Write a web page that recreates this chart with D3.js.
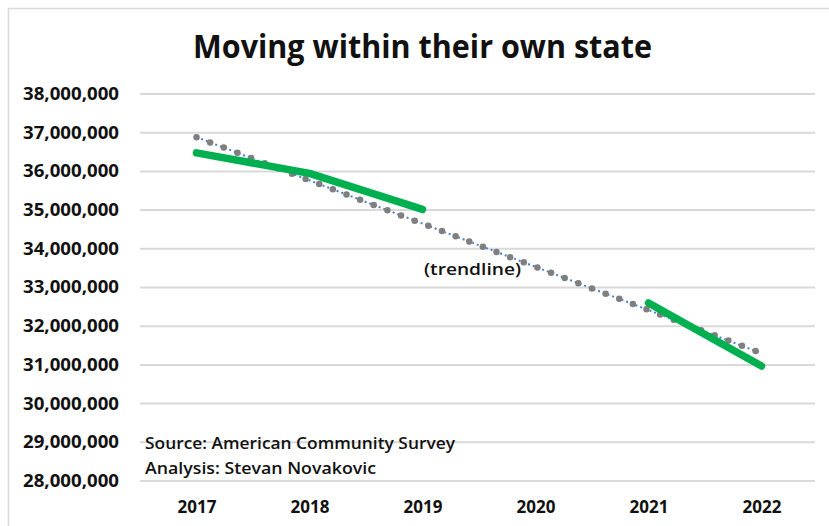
<!DOCTYPE html>
<html>
<head>
<meta charset="utf-8">
<script src="https://cdn.jsdelivr.net/npm/d3@7"></script>
<style>
  body { margin: 0; background: #fff; }
  text { font-family: "Open Sans", "DejaVu Sans", sans-serif; fill: #111; }
</style>
</head>
<body>
<div id="chart"></div>
<script>
// chart values
const years = ["2017", "2018", "2019", "2020", "2021", "2022"];
const movers = [36480000, 35950000, 35020000, null, 32600000, 30970000];
const yTicks = [28000000, 29000000, 30000000, 31000000, 32000000, 33000000,
                34000000, 35000000, 36000000, 37000000, 38000000];
const titleText = "Moving within their own state";
const noteLines = ["Source: American Community Survey", "Analysis: Stevan Novakovic"];
const trendLabel = "(trendline)";

const W = 829, H = 526;
const margin = {top: 94, right: 11, bottom: 45, left: 140};

const svg = d3.select("#chart").append("svg")
    .attr("width", W)
    .attr("height", H);

// faint frame of the chart area
svg.append("rect")
    .attr("x", 8.5).attr("y", 8.5)
    .attr("width", W).attr("height", H)
    .attr("fill", "none")
    .attr("stroke", "#d9d9d9")
    .attr("stroke-width", 1.5);

svg.append("text")
    .attr("x", 193)
    .attr("y", 58)
    .attr("textLength", 459)
    .attr("lengthAdjust", "spacingAndGlyphs")
    .style("font-size", "32px")
    .style("font-weight", 700)
    .text(titleText);

const x = d3.scalePoint()
    .domain(years)
    .range([margin.left, W - margin.right])
    .padding(0.5);

const y = d3.scaleLinear()
    .domain([28000000, 38000000])
    .range([H - margin.bottom, margin.top]);

// gridlines
svg.append("g")
    .selectAll("line")
    .data(yTicks)
    .join("line")
    .attr("x1", margin.left)
    .attr("x2", W - margin.right - 3)
    .attr("y1", d => y(d))
    .attr("y2", d => y(d))
    .attr("stroke", "#d9d9d9")
    .attr("stroke-width", 2);

// y axis labels
const yAxis = d3.axisLeft(y)
    .tickValues(yTicks)
    .tickFormat(d3.format(","))
    .tickSize(0)
    .tickPadding(0);

const yG = svg.append("g")
    .attr("transform", `translate(119,0)`)
    .call(yAxis);
yG.select(".domain").remove();
yG.selectAll("text")
    .attr("textLength", 96)
    .attr("lengthAdjust", "spacingAndGlyphs")
    .style("font-family", "'Open Sans', sans-serif")
    .style("font-size", "17px")
    .style("font-weight", 700)
    .attr("fill", "#222");

// x axis labels
const xAxis = d3.axisBottom(x).tickSize(0).tickPadding(0);
const xG = svg.append("g")
    .attr("transform", `translate(0,${H - 26})`)
    .call(xAxis);
xG.select(".domain").remove();
xG.selectAll("text")
    .attr("dy", "0.71em")
    .attr("y", 1)
    .style("font-family", "'Open Sans', sans-serif")
    .style("font-size", "17px")
    .style("font-weight", 700)
    .attr("fill", "#222");

// linear trendline (least squares on the year index, like a spreadsheet trendline)
const pts = movers.map((v, i) => ({i: i + 1, v: v})).filter(d => d.v != null);
const mx = d3.mean(pts, d => d.i), my = d3.mean(pts, d => d.v);
const slope = d3.sum(pts, d => (d.i - mx) * (d.v - my)) / d3.sum(pts, d => (d.i - mx) ** 2);
const trend = [1, years.length].map(i => ({year: years[i - 1], v: my + slope * (i - mx)}));

const trendLine = d3.line()
    .x(d => x(d.year))
    .y(d => y(d.v));

svg.append("path")
    .datum(trend)
    .attr("d", trendLine)
    .attr("fill", "none")
    .attr("stroke", "#4a7fd6")
    .attr("stroke-width", 2)
    .attr("stroke-dasharray", "2,3");

svg.append("path")
    .datum(trend)
    .attr("d", trendLine)
    .attr("fill", "none")
    .attr("stroke", "#7f7f7f")
    .attr("stroke-width", 6.5)
    .attr("stroke-linecap", "round")
    .attr("stroke-dasharray", "0,14.6");

// data line, broken at the missing year
const line = d3.line()
    .defined(d => d.v != null)
    .x(d => x(d.year))
    .y(d => y(d.v));

svg.append("path")
    .datum(years.map((yr, i) => ({year: yr, v: movers[i]})))
    .attr("d", line)
    .attr("fill", "none")
    .attr("stroke", "#00b050")
    .attr("stroke-width", 7.5)
    .attr("stroke-linecap", "round")
    .attr("stroke-linejoin", "round");

svg.append("text")
    .attr("x", 424)
    .attr("y", 275)
    .attr("textLength", 97)
    .attr("lengthAdjust", "spacingAndGlyphs")
    .style("font-size", "16px")
    .style("font-weight", 600)
    .text(trendLabel);

const noteLen = [310, 231];
svg.append("g")
    .selectAll("text")
    .data(noteLines)
    .join("text")
    .attr("x", 145)
    .attr("y", (d, i) => 449 + i * 25)
    .attr("textLength", (d, i) => noteLen[i])
    .attr("lengthAdjust", "spacingAndGlyphs")
    .style("font-size", "17px")
    .style("font-weight", 600)
    .text(d => d);
</script>
</body>
</html>
